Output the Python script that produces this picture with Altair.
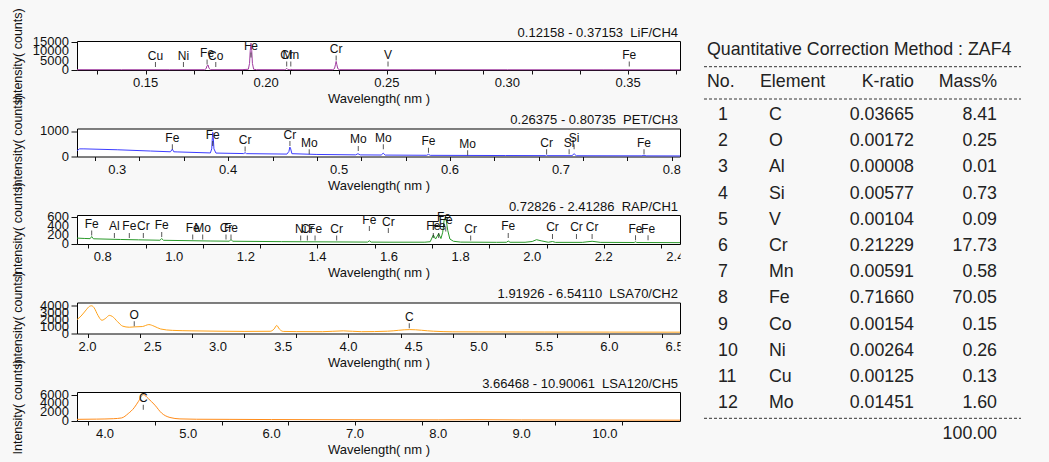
import math
import altair as alt
import pandas as pd

FONT = "Liberation Sans"
BG = "#f8f8f8"
INK = "#111111"

# ---------------- Panel 1 : LiF/CH4 ----------------
lif_title = "0.12158 - 0.37153\u00a0 LiF/CH4"
lif_range = [0.12158, 0.37153]
lif_wl = [0.12158, 0.1400, 0.1600, 0.1745, 0.1751, 0.1755, 0.1759, 0.1763, 0.1769, 0.1900,
          0.1926, 0.1931, 0.1934, 0.1937, 0.1940, 0.1943, 0.1948, 0.1960, 0.2075, 0.2081,
          0.2085, 0.2089, 0.2095, 0.2100, 0.2103, 0.2107, 0.2276, 0.2283, 0.2287, 0.2290,
          0.2293, 0.2297, 0.2304, 0.2600, 0.3000, 0.3400, 0.37153]
lif_cnt = [160, 150, 150, 160, 700, 2300, 2700, 900, 170, 180,
           400, 3500, 10500, 14300, 10500, 3500, 400, 180, 160, 350,
           900, 350, 170, 280, 380, 170, 170, 700, 2800, 4600,
           2800, 700, 170, 140, 130, 120, 120]
lif_el = ["Cu", "Ni", "Fe", "Co", "Fe", "Cr", "Mn", "Cr", "V", "Fe"]
lif_el_wl = [0.1541, 0.1657, 0.1755, 0.1791, 0.1937, 0.2085, 0.2102, 0.2290, 0.2505, 0.3505]
lif_el_lvl = [2900, 2900, 4300, 2900, 8000, 3200, 3200, 6400, 3200, 3200]
lif_ymax = 15500
lif_yticks = [0, 5000, 10000, 15000]
lif_major = [0.15, 0.20, 0.25, 0.30, 0.35]

# ---------------- Panel 2 : PET/CH3 ----------------
pet_title = "0.26375 - 0.80735\u00a0 PET/CH3"
pet_range = [0.26375, 0.80735]
pet_wl = [0.26375, 0.2660, 0.2700, 0.3000, 0.3300, 0.3480, 0.3497, 0.3510, 0.3540, 0.3840,
          0.3852, 0.3858, 0.3862, 0.3866, 0.3872, 0.3890, 0.4140, 0.4153, 0.4166, 0.4530,
          0.4548, 0.4556, 0.4562, 0.4575, 0.4800, 0.5150, 0.5170, 0.5190, 0.5380, 0.5398,
          0.5416, 0.5790, 0.5806, 0.5822, 0.6500, 0.6860, 0.6871, 0.6882, 0.7100, 0.7119,
          0.7138, 0.7730, 0.7749, 0.7768, 0.80735]
pet_cnt = [230, 300, 300, 265, 215, 185, 290, 185, 180, 140,
           300, 750, 950, 750, 300, 135, 115, 150, 112, 95,
           200, 370, 330, 110, 80, 65, 110, 63, 58, 130,
           56, 48, 85, 46, 38, 34, 60, 33, 32, 110,
           30, 26, 50, 25, 22]
pet_el = ["Fe", "Fe", "Cr", "Cr", "Mo", "Mo", "Mo", "Fe", "Mo", "Cr", "Si", "Si", "Fe"]
pet_el_wl = [0.3497, 0.3861, 0.4153, 0.4557, 0.4731, 0.5173, 0.5399, 0.5806, 0.6159, 0.6871,
             0.7074, 0.7119, 0.7749]
pet_el_lvl = [380, 510, 290, 510, 185, 315, 380, 250, 145, 185, 185, 380, 185]
pet_ymax = 1100
pet_yticks = [0, 1000]
pet_major = [0.3, 0.4, 0.5, 0.6, 0.7, 0.8]

# ---------------- Panel 3 : RAP/CH1 ----------------
rap_title = "0.72826 - 2.41286\u00a0 RAP/CH1"
rap_range = [0.72826, 2.41286]
rap_wl = [0.72826, 0.7500, 0.7650, 0.7693, 0.7740, 0.8500, 0.9000, 0.9600, 0.9649, 0.9700,
          1.1000, 1.1540, 1.1585, 1.1630, 1.3000, 1.5400, 1.5450, 1.5500, 1.6000, 1.7000,
          1.7150, 1.7237, 1.7300, 1.7387, 1.7450, 1.7500, 1.7540, 1.7585, 1.7640, 1.7700,
          1.7800, 1.8000, 1.9000, 1.9280, 1.9330, 1.9380, 1.9800, 2.0000, 2.0120, 2.0250,
          2.0450, 2.0566, 2.0650, 2.1400, 2.1673, 2.1900, 2.2850, 2.2886, 2.2920, 2.41286]
rap_cnt = [130, 122, 118, 165, 115, 100, 92, 83, 120, 82,
           66, 62, 100, 61, 52, 42, 70, 42, 40, 40,
           50, 200, 110, 230, 120, 260, 530, 590, 300, 110,
           60, 42, 37, 38, 65, 38, 38, 55, 95, 70,
           38, 55, 36, 36, 60, 36, 33, 48, 33, 30]
rap_el = ["Fe", "Al", "Fe", "Cr", "Fe", "Fe", "Mo", "Cr", "Fe", "Ni", "Cr", "Fe", "Cr",
          "Fe", "Cr", "Fe", "Fe", "Fe", "Fe", "Cr", "Fe", "Cr", "Cr", "Cr", "Fe", "Fe"]
rap_el_wl = [0.7693, 0.8327, 0.8744, 0.9136, 0.9649, 1.0515, 1.0794, 1.1445, 1.1585, 1.3532,
             1.3718, 1.3933, 1.4537, 1.5450, 1.5980, 1.7237, 1.7387, 1.7536, 1.7585, 1.8281,
             1.9330, 2.0566, 2.1236, 2.1673, 2.2886, 2.3236]
rap_el_lvl = [245, 189, 189, 189, 210, 152, 152, 152, 152, 130,
              130, 130, 130, 340, 297, 189, 189, 390, 332, 130,
              189, 167, 167, 167, 137, 137]
rap_ymax = 640
rap_yticks = [0, 200, 400, 600]
rap_major = [0.8, 1.0, 1.2, 1.4, 1.6, 1.8, 2.0, 2.2, 2.4]

# ---------------- Panel 4 : LSA70/CH2 ----------------
l70_title = "1.91926 - 6.54110\u00a0 LSA70/CH2"
l70_range = [1.91926, 6.54110]
l70_wl = [1.91926, 1.9500, 1.9900, 2.0150, 2.0320, 2.0500, 2.0800, 2.1100, 2.1400, 2.1670,
          2.1900, 2.2300, 2.2700, 2.3200, 2.3600, 2.4200, 2.4700, 2.5100, 2.5600, 2.6500,
          2.8000, 3.0000, 3.2000, 3.4000, 3.4300, 3.4500, 3.4700, 3.5000, 3.6000, 3.8000,
          3.9600, 4.1000, 4.3000, 4.4700, 4.6500, 4.8000, 5.0000, 5.5000, 6.0000, 6.5411]
l70_cnt = [2000, 2500, 3400, 3900, 3980, 3700, 2600, 1900, 2200, 2600,
           2450, 1700, 1050, 900, 950, 1000, 1280, 1050, 650, 450,
           380, 330, 300, 320, 650, 1150, 650, 300, 270, 260,
           380, 260, 330, 560, 330, 240, 230, 210, 200, 190]
l70_el = ["O", "C"]
l70_el_wl = [2.358, 4.466]
l70_el_lvl = [1400, 1110]
l70_ymax = 4450
l70_yticks = [0, 1000, 2000, 3000, 4000]
l70_major = [2.0, 2.5, 3.0, 3.5, 4.0, 4.5, 5.0, 5.5, 6.0, 6.5]

# ---------------- Panel 5 : LSA120/CH5 ----------------
l120_title = "3.66468 - 10.90061\u00a0 LSA120/CH5"
l120_range = [3.66468, 10.90061]
l120_wl = [3.66468, 3.9000, 4.1000, 4.2000, 4.2800, 4.3500, 4.4000, 4.4600, 4.5200, 4.6000,
           4.6800, 4.7800, 4.9000, 5.1000, 5.5000, 6.0000, 7.0000, 8.0000, 8.5000, 9.0000,
           10.0000, 10.90061]
l120_cnt = [380, 430, 520, 700, 1700, 3000, 4400, 6000, 5100, 3600,
            1800, 800, 480, 400, 370, 330, 280, 250, 290, 240,
            210, 190]
l120_el = ["C"]
l120_el_wl = [4.46]
l120_el_lvl = [3150]
l120_ymax = 6600
l120_yticks = [0, 2000, 4000, 6000]
l120_major = [4.0, 5.0, 6.0, 7.0, 8.0, 9.0, 10.0]

# ---------------- Quantitative table ----------------
table_title = "Quantitative Correction Method : ZAF4"
table_header = ["No.", "Element", "K-ratio", "Mass%"]
table_no = [1, 2, 3, 4, 5, 6, 7, 8, 9, 10, 11, 12]
table_el = ["C", "O", "Al", "Si", "V", "Cr", "Mn", "Fe", "Co", "Ni", "Cu", "Mo"]
table_k = ["0.03665", "0.00172", "0.00008", "0.00577", "0.00104", "0.21229",
           "0.00591", "0.71660", "0.00154", "0.00264", "0.00125", "0.01451"]
table_mass = ["8.41", "0.25", "0.01", "0.73", "0.09", "17.73",
              "0.58", "70.05", "0.15", "0.26", "0.13", "1.60"]
table_total = "100.00"

PLOT_W = 603
one = pd.DataFrame({"m": [0]})


def tick_values(lo, hi, step):
    k0 = math.ceil(lo / step - 1e-9)
    k1 = math.floor(hi / step + 1e-9)
    return [round(k * step, 6) for k in range(k0, k1 + 1)]


def make_panel(title, wl, cnt, el, el_wl, el_lvl, xdom, ymax, yticks, majors, step, fmt,
               color, h, interp):
    spec = pd.DataFrame({"wl": wl, "cnt": cnt})
    mk = pd.DataFrame({"el": el, "wl": el_wl, "cnt": el_lvl})
    xs = alt.Scale(domain=xdom, nice=False, zero=False)
    ys = alt.Scale(domain=[0, ymax], nice=False)
    xaxis = alt.Axis(
        title="Wavelength( nm )",
        values=tick_values(xdom[0], xdom[1], step),
        labels=False,
        titlePadding=18,
    )
    yaxis = alt.Axis(
        title="Intensity( counts)",
        values=yticks,
        labels=False,
        titleAngle=270,
        titleAlign="left",
        titleBaseline="alphabetic",
        titleX=-56,
        titleY=h + 33,
        titleFontSize=12.5,
    )
    line = alt.Chart(spec).mark_line(color=color, strokeWidth=1, interpolate=interp).encode(
        x=alt.X("wl:Q", scale=xs, axis=xaxis),
        y=alt.Y("cnt:Q", scale=ys, axis=yaxis),
    )
    tk = alt.Chart(mk).mark_tick(orient="vertical", size=5, thickness=1, color=INK).encode(
        x=alt.X("wl:Q", scale=xs),
        y=alt.Y("cnt:Q", scale=ys),
    )
    lb = alt.Chart(mk).mark_text(fontSize=12, dy=-9, font=FONT, color=INK,
                                 baseline="middle").encode(
        x=alt.X("wl:Q", scale=xs),
        y=alt.Y("cnt:Q", scale=ys),
        text="el:N",
    )
    # tick labels (drawn as text through the scales)
    xlab = alt.Chart(pd.DataFrame({"wl": majors})).mark_text(
        fontSize=13, font=FONT, color=INK, baseline="top", align="center").encode(
        x=alt.X("wl:Q", scale=xs),
        y=alt.value(h + 7),
        text=alt.Text("wl:Q", format=fmt),
    )
    ylab = alt.Chart(pd.DataFrame({"cnt": yticks})).mark_text(
        fontSize=13, font=FONT, color=INK, baseline="middle", align="right").encode(
        x=alt.value(-8),
        y=alt.Y("cnt:Q", scale=ys),
        text=alt.Text("cnt:Q", format="d"),
    )
    mask = alt.Chart(one).mark_rect(color=BG).encode(
        x=alt.value(PLOT_W + 0.6), x2=alt.value(PLOT_W + 24),
        y=alt.value(h + 1), y2=alt.value(h + 24),
    )
    ttl = alt.Chart(one).mark_text(text=title, align="right", baseline="alphabetic",
                                   fontSize=13, font=FONT, color=INK).encode(
        x=alt.value(PLOT_W - 2), y=alt.value(-4.5),
    )
    return alt.layer(line, tk, lb, xlab, ylab, mask, ttl)


def panel_props(chart, h):
    return chart.properties(
        width=PLOT_W,
        height=h,
        view=alt.ViewBackground(fill="white", stroke="black", strokeWidth=1),
    )


# ---- table layer (drawn in panel 1's coordinates) ----
tdf = pd.DataFrame({"no": table_no, "el": table_el, "k": table_k, "mass": table_mass})
row_y = alt.Y("no:Q", scale=alt.Scale(domain=[1, 12], range=[74, 362.3]), axis=None)
tkw = dict(font=FONT, fontSize=17.8, color="#222222", baseline="middle")

t_title = alt.Chart(one).mark_text(align="left", text=table_title, **tkw).encode(
    x=alt.value(630), y=alt.value(9))
t_h1 = alt.Chart(one).mark_text(align="left", text=table_header[0], **tkw).encode(
    x=alt.value(630), y=alt.value(41))
t_h2 = alt.Chart(one).mark_text(align="left", text=table_header[1], **tkw).encode(
    x=alt.value(683), y=alt.value(41))
t_h3 = alt.Chart(one).mark_text(align="right", text=table_header[2], **tkw).encode(
    x=alt.value(837), y=alt.value(41))
t_h4 = alt.Chart(one).mark_text(align="right", text=table_header[3], **tkw).encode(
    x=alt.value(920), y=alt.value(41))
t_no = alt.Chart(tdf).mark_text(align="left", **tkw).encode(
    x=alt.value(641), y=row_y, text=alt.Text("no:Q", format="d"))
t_el = alt.Chart(tdf).mark_text(align="left", **tkw).encode(
    x=alt.value(692), y=row_y, text="el:N")
t_k = alt.Chart(tdf).mark_text(align="right", **tkw).encode(
    x=alt.value(837), y=row_y, text="k:N")
t_m = alt.Chart(tdf).mark_text(align="right", **tkw).encode(
    x=alt.value(920), y=row_y, text="mass:N")
t_tot = alt.Chart(one).mark_text(align="right", text=table_total, **tkw).encode(
    x=alt.value(920), y=alt.value(393))
dash_kw = dict(strokeDash=[3, 2], color="#333333", strokeWidth=1)
d1 = alt.Chart(one).mark_rule(**dash_kw).encode(x=alt.value(627), x2=alt.value(944), y=alt.value(25.7))
d2 = alt.Chart(one).mark_rule(**dash_kw).encode(x=alt.value(627), x2=alt.value(944), y=alt.value(58))
d3 = alt.Chart(one).mark_rule(**dash_kw).encode(x=alt.value(627), x2=alt.value(944), y=alt.value(377.3))
table_layer = alt.layer(t_title, d1, t_h1, t_h2, t_h3, t_h4, d2, t_no, t_el, t_k, t_m, d3, t_tot)

H = [29, 28, 29, 31, 29]

p1_inner = make_panel(lif_title, lif_wl, lif_cnt, lif_el, lif_el_wl, lif_el_lvl, lif_range,
                      lif_ymax, lif_yticks, lif_major, 0.01, ".2f", "#a03ca0", H[0], "linear")
p1 = panel_props(alt.layer(p1_inner, table_layer).resolve_scale(y="independent"), H[0])

p2 = panel_props(make_panel(pet_title, pet_wl, pet_cnt, pet_el, pet_el_wl, pet_el_lvl, pet_range,
                            pet_ymax, pet_yticks, pet_major, 0.02, ".1f", "#3c3cff", H[1],
                            "linear"), H[1])
p3 = panel_props(make_panel(rap_title, rap_wl, rap_cnt, rap_el, rap_el_wl, rap_el_lvl, rap_range,
                            rap_ymax, rap_yticks, rap_major, 0.04, ".1f", "#2a9a2a", H[2],
                            "linear"), H[2])
p4 = panel_props(make_panel(l70_title, l70_wl, l70_cnt, l70_el, l70_el_wl, l70_el_lvl, l70_range,
                            l70_ymax, l70_yticks, l70_major, 0.1, ".1f", "#ffa31a", H[3],
                            "monotone"), H[3])
p5 = panel_props(make_panel(l120_title, l120_wl, l120_cnt, l120_el, l120_el_wl, l120_el_lvl,
                            l120_range, l120_ymax, l120_yticks, l120_major, 0.2, ".1f",
                            "#ff8c1a", H[4], "monotone"), H[4])

chart = alt.vconcat(p1, p2, p3, p4, p5, spacing=58.5, bounds="flush").properties(
    autosize=alt.AutoSizeParams(type="none"),
    padding={"left": 77, "top": 41, "right": 1049 - 77 - PLOT_W, "bottom": 462 - 41},
    background=BG,
).configure_axis(
    labelFont=FONT, titleFont=FONT, titleFontSize=13,
    titleColor=INK, tickColor=INK, domain=False, grid=False,
    titleFontWeight="normal",
).configure_axisX(
    tickSize=4,
).configure_axisY(
    tickSize=6,
).configure_view(stroke="transparent")

chart.save("out.html", embed_options={"renderer": "svg", "actions": False})
